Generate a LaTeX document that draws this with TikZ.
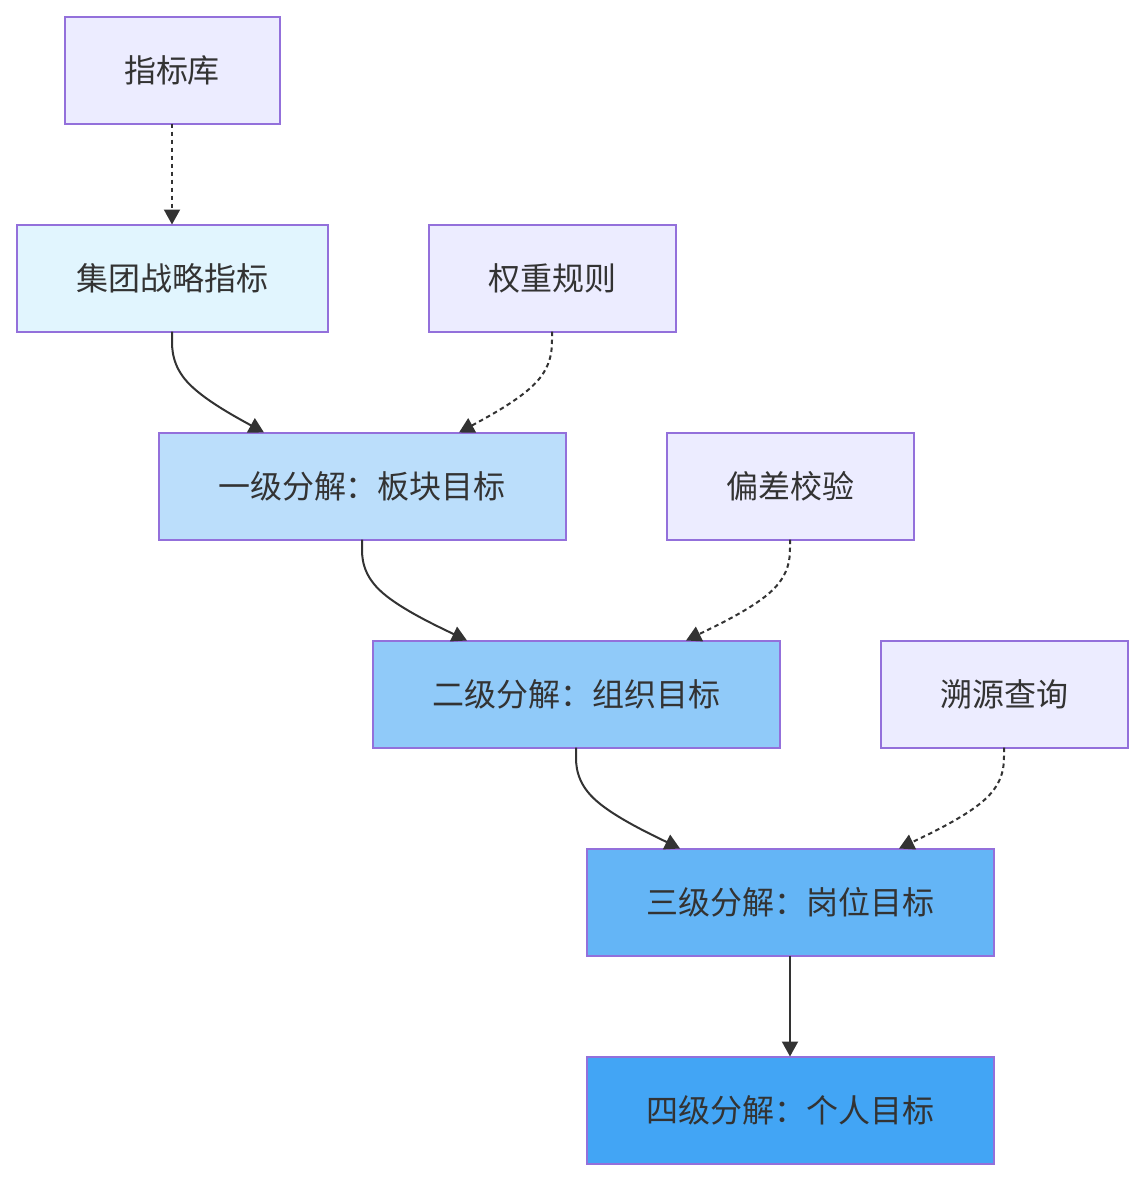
\documentclass[tikz,border=0pt]{standalone}
\usepackage{fontspec}
\setmainfont{Noto Sans CJK SC}
\usetikzlibrary{arrows.meta,calc}
\definecolor{nodestroke}{HTML}{9370DB}
\definecolor{purplefill}{HTML}{ECECFF}
\definecolor{textc}{HTML}{333333}
\definecolor{edgec}{HTML}{333333}
\definecolor{fillA}{HTML}{E1F5FE}
\definecolor{fillB}{HTML}{BBDEFB}
\definecolor{fillC}{HTML}{90CAF9}
\definecolor{fillD}{HTML}{64B5F6}
\definecolor{fillE}{HTML}{42A5F5}
\newcommand\bcurve[4]{%
  \coordinate (bA) at (#2.south);
  \coordinate (bC) at ($(#3.north)+(#4,0)$);
  \coordinate (bD) at (bA |- bC);
  \draw[#1] (bA) -- ($(bA)!0.083333!(bD)$)
    .. controls ($(bA)!0.166667!(bD)$) and ($(bA)!0.333333!(bD)$)
    .. ($(bA)!0.5!(bD)+0.166667*(bC)-0.166667*(bD)$)
    .. controls ($(bA)!0.666667!(bD)+0.333333*(bC)-0.333333*(bD)$) and ($(bA)!0.833333!(bD)+0.666667*(bC)-0.666667*(bD)$)
    .. ($(bA)!0.916667!(bD)+0.833333*(bC)-0.833333*(bD)$) -- (bC);}
\begin{document}
\begin{tikzpicture}[x=0.5pt,y=-0.5pt,
  box/.style={draw=nodestroke, line width=1pt, rectangle, inner sep=0pt, outer sep=0pt,
    minimum height=53.5pt, text=textc, font=\fontsize{16pt}{20pt}\selectfont},
  purplebox/.style={box, fill=purplefill, minimum width=#1},
  bluebox/.style={box, minimum width=203.5pt},
  edge/.style={draw=edgec, line width=1pt, -{Triangle[length=7.5pt,width=8pt]}},
  dottededge/.style={edge, dash pattern=on 2.25pt off 1.75pt}]
\useasboundingbox (0,0) rectangle (1144,1180);
\node[purplebox=107.5pt] (lib) at (172,70) {指标库};
\node[box, fill=fillA, minimum width=155.5pt] (jt) at (172,278) {集团战略指标};
\node[purplebox=123.5pt] (qz) at (552,278) {权重规则};
\node[bluebox, fill=fillB] (l1) at (362,486) {一级分解：板块目标};
\node[purplebox=123.5pt] (pc) at (790,486) {偏差校验};
\node[bluebox, fill=fillC] (l2) at (576,694) {二级分解：组织目标};
\node[purplebox=123.5pt] (sy) at (1004,694) {溯源查询};
\node[bluebox, fill=fillD] (l3) at (790,902) {三级分解：岗位目标};
\node[bluebox, fill=fillE] (l4) at (790,1110) {四级分解：个人目标};
\draw[dottededge] (lib.south) -- (jt.north);
\bcurve{edge}{jt}{l1}{-98}
\bcurve{dottededge}{qz}{l1}{97}
\bcurve{edge}{l1}{l2}{-109}
\bcurve{dottededge}{pc}{l2}{110}
\bcurve{edge}{l2}{l3}{-110}
\bcurve{dottededge}{sy}{l3}{109}
\draw[edge] (l3.south) -- (l4.north);
\end{tikzpicture}
\end{document}
